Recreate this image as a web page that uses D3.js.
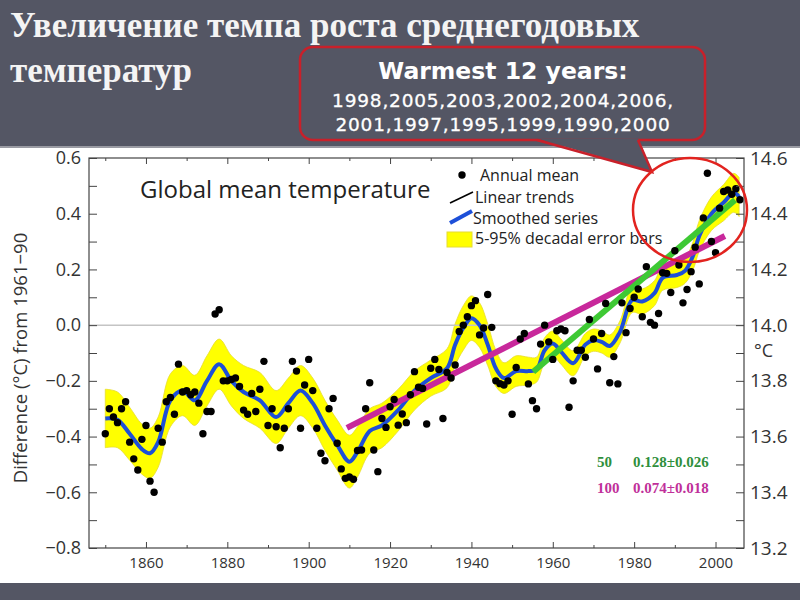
<!DOCTYPE html>
<html>
<head>
<meta charset="utf-8">
<script src="https://cdn.jsdelivr.net/npm/d3@7"></script>
<style>
  body { margin: 0; background: #545664; }
  svg { display: block; }
</style>
</head>
<body>
<svg id="chart"></svg>
<script>
// annual means, 1850-2006, difference from 1961-90 (°C)
const annualYears = d3.range(1850, 2007);
const annualMean = [
  -0.39, -0.30, -0.33, -0.35, -0.30, -0.275, -0.42, -0.48, -0.52, -0.41,   // 1850s
  -0.36, -0.56, -0.60, -0.37, -0.42, -0.275, -0.26, -0.32, -0.14, -0.24,   // 1860s
  -0.235, -0.25, -0.24, -0.28, -0.39, -0.31, -0.31, 0.04, 0.055, -0.20,    // 1870s
  -0.20, -0.195, -0.19, -0.22, -0.305, -0.32, -0.245, -0.31, -0.23, -0.13, // 1880s
  -0.36, -0.30, -0.365, -0.44, -0.37, -0.30, -0.13, -0.165, -0.37, -0.215, // 1890s
  -0.123, -0.235, -0.37, -0.46, -0.487, -0.30, -0.263, -0.424, -0.516, -0.55, // 1900s
  -0.545, -0.553, -0.45, -0.448, -0.30, -0.207, -0.448, -0.526, -0.335, -0.367, // 1910s
  -0.293, -0.267, -0.359, -0.319, -0.35, -0.25, -0.167, -0.223, -0.227, -0.355, // 1920s
  -0.155, -0.123, -0.159, -0.335, -0.17, -0.19, -0.143, -0.023, 0.0, 0.03,   // 1930s
  0.07, 0.088, -0.035, -0.01, 0.11, -0.008, -0.20, -0.21, -0.215, -0.20,     // 1940s
  -0.32, -0.152, -0.05, -0.03, -0.211, -0.271, -0.30, -0.068, 0.0, -0.06,    // 1950s
  -0.123, -0.02, -0.014, -0.02, -0.295, -0.20, -0.09, -0.09, -0.115, 0.02,   // 1960s
  -0.05, -0.157, -0.03, 0.078, -0.207, -0.113, -0.211, 0.08, -0.027, 0.06,   // 1970s
  0.10, 0.13, 0.03, 0.21, 0.01, 0.0, 0.042, 0.188, 0.186, 0.117,             // 1980s
  0.267, 0.216, 0.08, 0.128, 0.192, 0.28, 0.148, 0.385, 0.545, 0.30,         // 1990s
  0.26, 0.42, 0.48, 0.485, 0.47, 0.49, 0.45                                  // 2000s
];

// smoothed series and 5-95% decadal error half-width
const smoothYears = [1850, 1853, 1856, 1859, 1861, 1863, 1866, 1869, 1872, 1875, 1878, 1881, 1884, 1888,
  1892, 1895, 1898, 1901, 1904, 1907, 1910, 1912, 1915, 1918, 1922, 1926, 1930, 1934, 1936, 1938,
  1940, 1942, 1944, 1946, 1948, 1951, 1954, 1956, 1958, 1960, 1962, 1965, 1968, 1970, 1972, 1974,
  1976.5, 1979.5, 1982, 1985, 1987, 1990.5, 1992.5, 1994.5, 1996, 1999, 2002, 2004.5, 2005.8];
const smoothMean = [-0.335, -0.34, -0.39, -0.445, -0.46, -0.42, -0.27, -0.235, -0.27, -0.2, -0.14, -0.2, -0.24, -0.27,
  -0.33, -0.28, -0.235, -0.28, -0.36, -0.43, -0.49, -0.455, -0.38, -0.36, -0.305, -0.235, -0.19, -0.155, -0.07, -0.01,
  0.025, 0.0, -0.07, -0.155, -0.19, -0.165, -0.165, -0.16, -0.09, -0.066, -0.095, -0.137, -0.07, -0.054, -0.06, -0.075,
  -0.025, 0.09, 0.085, 0.115, 0.17, 0.18, 0.195, 0.25, 0.32, 0.40, 0.44, 0.475, 0.46];
const errorHalf = [0.105, 0.1, 0.095, 0.09, 0.09, 0.09, 0.095, 0.09, 0.09, 0.09, 0.09, 0.09, 0.095, 0.1,
  0.095, 0.09, 0.09, 0.09, 0.09, 0.09, 0.095, 0.09, 0.08, 0.08, 0.075, 0.07, 0.065, 0.07, 0.075, 0.08,
  0.08, 0.08, 0.075, 0.065, 0.055, 0.055, 0.05, 0.045, 0.045, 0.045, 0.045, 0.045, 0.04, 0.04, 0.04, 0.04,
  0.04, 0.045, 0.045, 0.045, 0.045, 0.045, 0.045, 0.05, 0.055, 0.06, 0.065, 0.07, 0.07];

// linear trends (last 50 and 100 years)
const trend50Years = [1955.2, 2004.8];
const trend50Values = [-0.167, 0.449];
const trend100Years = [1909.4, 2002.3];
const trend100Values = [-0.369, 0.32];

const xMajor = [1860, 1880, 1900, 1920, 1940, 1960, 1980, 2000];
const xMinor = [1850, 1870, 1890, 1910, 1930, 1950, 1970, 1990];
const yMajor = [-0.8, -0.6, -0.4, -0.2, 0.0, 0.2, 0.4, 0.6];
const yMinor = [-0.7, -0.5, -0.3, -0.1, 0.1, 0.3, 0.5];

const warmest = ["1998,2005,2003,2002,2004,2006,", "2001,1997,1995,1999,1990,2000"];

const bg = "#545664";
const sans = "'Open Sans', sans-serif";

const svg = d3.select("#chart")
  .attr("width", 800)
  .attr("height", 600);

svg.append("rect").attr("width", 800).attr("height", 600).attr("fill", "#fff");
svg.append("rect").attr("width", 800).attr("height", 146).attr("fill", bg);
svg.append("rect").attr("y", 146).attr("width", 800).attr("height", 2).attr("fill", "#9a9ba3");
svg.append("rect").attr("y", 583).attr("width", 800).attr("height", 17).attr("fill", bg);

// slide title
const title = svg.append("text")
  .attr("fill", "#f4f4f4")
  .attr("font-family", "'Liberation Serif', serif")
  .attr("font-weight", "bold")
  .attr("font-size", 35);
title.append("tspan").attr("x", 10).attr("y", 37).text("Увеличение темпа роста среднегодовых");
title.append("tspan").attr("x", 10).attr("y", 82).text("температур");

const xScale = d3.scaleLinear().domain([1846, 2007]).range([89, 744]);
const yScale = d3.scaleLinear().domain([-0.8, 0.6]).range([548, 158]);

const plot = svg.append("g");

// error band
const smooth = smoothYears.map((yr, i) => ({ yr, v: smoothMean[i], e: errorHalf[i] }));
plot.append("path")
  .datum(smooth)
  .attr("fill", "#ffff00")
  .attr("stroke", "#e6dc30")
  .attr("stroke-width", 0.8)
  .attr("d", d3.area()
    .x(d => xScale(d.yr))
    .y0(d => yScale(d.v - d.e))
    .y1(d => yScale(d.v + d.e))
    .curve(d3.curveCatmullRom));

// zero line
plot.append("line")
  .attr("x1", 89).attr("x2", 744)
  .attr("y1", yScale(0)).attr("y2", yScale(0))
  .attr("stroke", "#c4c4c4")
  .attr("stroke-width", 1.5);

plot.append("path")
  .datum(smooth)
  .attr("fill", "none")
  .attr("stroke", "#1d4fd8")
  .attr("stroke-width", 4)
  .attr("d", d3.line().x(d => xScale(d.yr)).y(d => yScale(d.v)).curve(d3.curveCatmullRom));

const trendLine = d3.line().x(d => xScale(d[0])).y(d => yScale(d[1]));
plot.append("path")
  .datum(trend100Years.map((yr, i) => [yr, trend100Values[i]]))
  .attr("stroke", "#c8289b")
  .attr("stroke-width", 6)
  .attr("d", trendLine);
plot.append("path")
  .datum(trend50Years.map((yr, i) => [yr, trend50Values[i]]))
  .attr("stroke", "#3ec934")
  .attr("stroke-width", 6)
  .attr("d", trendLine);

plot.selectAll("circle.dot")
  .data(annualMean)
  .enter()
  .append("circle")
  .attr("class", "dot")
  .attr("cx", (d, i) => xScale(annualYears[i]))
  .attr("cy", d => yScale(d))
  .attr("r", 3.7)
  .attr("fill", "#000");

// axes, ticks pointing inward
const fmt = d3.format(".1f");
const styleAxis = g => {
  g.select(".domain").remove();
  g.selectAll("line").attr("stroke", "#444");
  g.selectAll("text").attr("fill", "#333").attr("font-family", sans);
};

svg.append("g").attr("transform", "translate(0,548)")
  .call(d3.axisBottom(xScale).tickValues(xMajor).tickSize(-6).tickPadding(9).tickFormat(d3.format("d")))
  .call(styleAxis).attr("font-size", 15);
svg.append("g").attr("transform", "translate(0,548)")
  .call(d3.axisBottom(xScale).tickValues(xMinor).tickSize(-3).tickFormat(""))
  .call(styleAxis);
svg.append("g").attr("transform", "translate(0,158)")
  .call(d3.axisTop(xScale).tickValues(xMajor).tickSize(-6).tickFormat(""))
  .call(styleAxis);
svg.append("g").attr("transform", "translate(0,158)")
  .call(d3.axisTop(xScale).tickValues(xMinor).tickSize(-3).tickFormat(""))
  .call(styleAxis);

svg.append("g").attr("transform", "translate(89,0)")
  .call(d3.axisLeft(yScale).tickValues(yMajor).tickSize(-8).tickPadding(8).tickFormat(fmt))
  .call(styleAxis).attr("font-size", 18);
svg.append("g").attr("transform", "translate(89,0)")
  .call(d3.axisLeft(yScale).tickValues(yMinor).tickSize(-8).tickFormat(""))
  .call(styleAxis);
svg.append("g").attr("transform", "translate(744,0)")
  .call(d3.axisRight(yScale).tickValues(yMajor).tickSize(-8).tickPadding(6).tickFormat(d => fmt(d + 14)))
  .call(styleAxis).attr("font-size", 19);
svg.append("g").attr("transform", "translate(744,0)")
  .call(d3.axisRight(yScale).tickValues(yMinor).tickSize(-8).tickFormat(""))
  .call(styleAxis);

svg.append("rect")
  .attr("x", 89).attr("y", 158)
  .attr("width", 744 - 89).attr("height", 548 - 158)
  .attr("fill", "none")
  .attr("stroke", "#444")
  .attr("stroke-width", 1.2);

svg.append("text")
  .attr("x", 754).attr("y", 357)
  .attr("font-family", sans).attr("font-size", 18).attr("fill", "#333")
  .text("°C");

svg.append("text")
  .attr("transform", "translate(27,358) rotate(-90)")
  .attr("text-anchor", "middle")
  .attr("font-family", sans).attr("font-size", 18.5).attr("fill", "#333")
  .text("Difference (°C) from 1961−90");

svg.append("text")
  .attr("x", 140).attr("y", 198)
  .attr("font-family", sans).attr("font-size", 24).attr("fill", "#222")
  .text("Global mean temperature");

// legend
const legend = svg.append("g").attr("font-family", sans).attr("font-size", 16).attr("fill", "#222");
legend.append("circle").attr("cx", 462).attr("cy", 175).attr("r", 3.7).attr("fill", "#000");
legend.append("line").attr("x1", 450).attr("y1", 203).attr("x2", 473).attr("y2", 192)
  .attr("stroke", "#000").attr("stroke-width", 1.6);
legend.append("line").attr("x1", 450).attr("y1", 223).attr("x2", 472).attr("y2", 211)
  .attr("stroke", "#1d4fd8").attr("stroke-width", 4);
legend.append("rect").attr("x", 447).attr("y", 232).attr("width", 25).attr("height", 15)
  .attr("fill", "#ffff00").attr("stroke", "#e6dc30");
legend.append("text").attr("x", 480).attr("y", 181).text("Annual mean");
legend.append("text").attr("x", 475).attr("y", 203).text("Linear trends");
legend.append("text").attr("x", 473).attr("y", 224).text("Smoothed series");
legend.append("text").attr("x", 475).attr("y", 244).text("5-95% decadal error bars");

// trend rates per decade
const rates = svg.append("g")
  .attr("font-family", "'Liberation Serif', serif")
  .attr("font-weight", "bold")
  .attr("font-size", 15);
rates.append("text").attr("x", 597).attr("y", 467).attr("fill", "#2f8f3c").text("50");
rates.append("text").attr("x", 633).attr("y", 467).attr("fill", "#2f8f3c").text("0.128±0.026");
rates.append("text").attr("x", 597).attr("y", 493).attr("fill", "#c0309a").text("100");
rates.append("text").attr("x", 633).attr("y", 493).attr("fill", "#c0309a").text("0.074±0.018");

// callout with pointer to the recent years
const red = "#c8202a";
svg.append("rect")
  .attr("x", 300).attr("y", 47).attr("width", 405).attr("height", 93).attr("rx", 13)
  .attr("fill", bg).attr("stroke", red).attr("stroke-width", 2.5);
svg.append("path")
  .attr("d", "M537,138.5 L652,172 L638,138.5 Z")
  .attr("fill", bg);
svg.append("path")
  .attr("d", "M537,140 L652,172 L638,140")
  .attr("fill", "none").attr("stroke", red).attr("stroke-width", 2.5);

svg.append("ellipse")
  .attr("cx", 690).attr("cy", 210).attr("rx", 57).attr("ry", 52)
  .attr("fill", "none").attr("stroke", "#e2231f").attr("stroke-width", 2.5);

const callout = svg.append("g")
  .attr("fill", "#fff")
  .attr("text-anchor", "middle")
  .attr("font-family", "'DejaVu Sans', sans-serif");
callout.append("text").attr("x", 503).attr("y", 79)
  .attr("font-weight", "bold").attr("font-size", 23.5)
  .text("Warmest 12 years:");
callout.selectAll("text.yrs")
  .data(warmest)
  .enter()
  .append("text")
  .attr("class", "yrs")
  .attr("x", 503)
  .attr("y", (d, i) => 107 + i * 24)
  .attr("font-size", 18.5)
  .attr("letter-spacing", 0.8)
  .attr("stroke", "#fff")
  .attr("stroke-width", 0.3)
  .text(d => d);
</script>
</body>
</html>
